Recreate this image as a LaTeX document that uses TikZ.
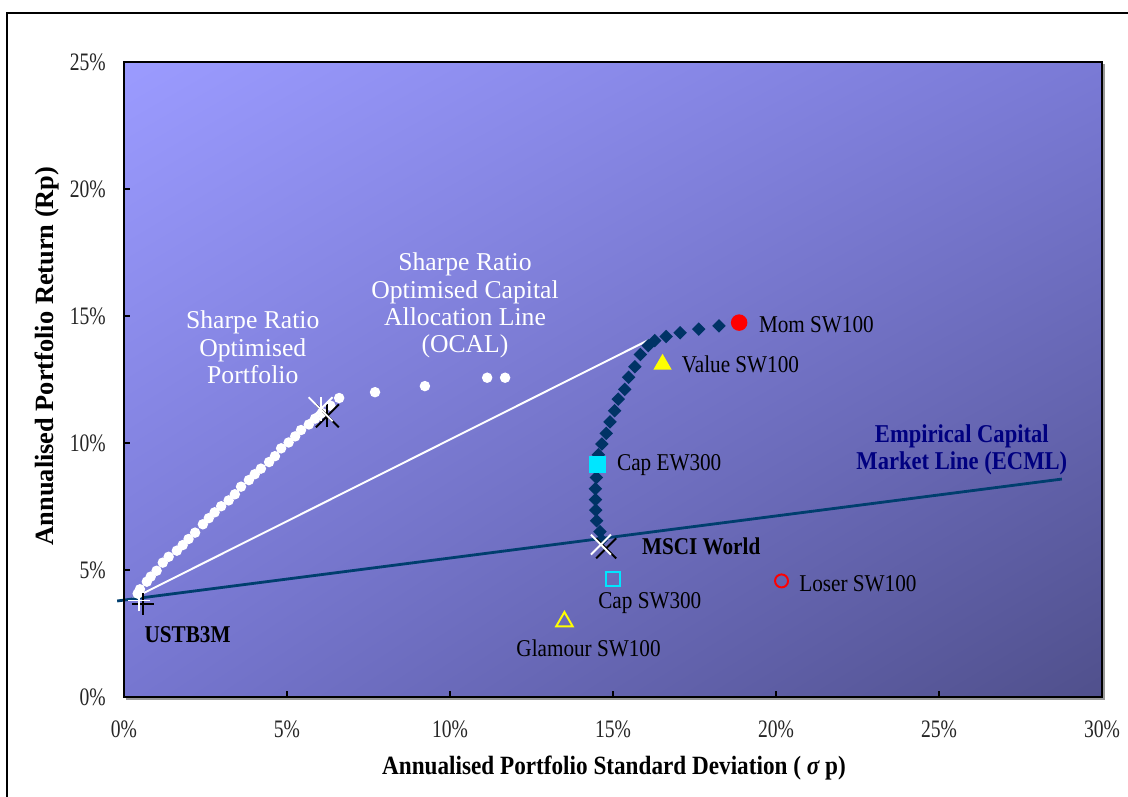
\documentclass[tikz,border=0pt]{standalone}
\usepackage{fontspec}
\setmainfont{Liberation Serif}
\newfontfamily\narrowserif[FakeStretch=0.88]{Liberation Serif}
\newfontfamily\tickserif[FakeStretch=0.78]{Liberation Serif}
\usetikzlibrary{shapes.geometric,shapes.misc,shadings,positioning}
\definecolor{bgUL}{RGB}{155,155,255}
\definecolor{bgUR}{RGB}{122,122,214}
\definecolor{bgLL}{RGB}{118,118,208}
\definecolor{bgLR}{RGB}{80,80,140}
\definecolor{frontier}{RGB}{0,51,102}
\definecolor{ecmlcol}{RGB}{0,62,110}
\definecolor{ecmltext}{RGB}{0,0,128}
\definecolor{markcyan}{RGB}{0,230,255}
\definecolor{markyellow}{RGB}{255,255,0}
\definecolor{markred}{RGB}{255,0,0}
\tikzset{
  %Define marker styles
  dotmark/.style={circle, fill=white, inner sep=0pt, outer sep=0pt, minimum size=0.21cm},
  diamark/.style={diamond, fill=frontier, inner sep=0pt, outer sep=0pt, minimum size=0.27cm},
  trimark/.style={regular polygon, regular polygon sides=3, inner sep=0pt, outer sep=0pt, minimum size=0.42cm},
  sqmark/.style={rectangle, inner sep=0pt, outer sep=0pt, minimum size=#1},
  circmark/.style={circle, inner sep=0pt, outer sep=0pt, minimum size=#1},
  xmark/.style={cross out, draw=#1, line width=1.1pt, inner sep=0pt, outer sep=0pt},
  %Define text styles
  lbl/.style={inner sep=0pt, font=\narrowserif\fontsize{13.7}{16}\selectfont},
  boldlbl/.style={inner sep=0pt, font=\narrowserif\bfseries\fontsize{13.7}{16}\selectfont},
  whitelbl/.style={inner sep=0pt, align=center, text=white,
    font=\fontsize{14.6}{15.6}\selectfont},
  ticklbl/.style={inner sep=0pt, text=black!85, font=\tickserif\fontsize{14.3}{16}\selectfont},
  % Define line styles
  ecml/.style={draw=ecmlcol, line width=1.6pt},
  ocal/.style={draw=white, line width=1.1pt}
}
\begin{document}
\begin{tikzpicture}[x=0.652cm,y=0.508cm]
  \useasboundingbox (-3.804,-3.937) rectangle (30.798,27.441);
  % frame round the chart
  \draw[line width=1.1pt] (-3.589,-3.937) -- (-3.589,26.929) -- (30.798,26.929);
  % plot area
  \shade[upper left=bgUL, upper right=bgUR, lower left=bgLL, lower right=bgLR]
    (0,0) rectangle (30,25);
  \foreach \t in {5,10,...,25} \draw[line width=0.6pt] (\t,0) -- (\t,0.22);
  \foreach \t in {5,10,15,20} \draw[line width=0.6pt] (0,\t) -- (0.18,\t);
  \foreach \t in {0,5,...,30} \node[ticklbl] (xt\t) at (\t,-1.26) {\t\%};
  \foreach \t in {0,5,...,25} \node[ticklbl, anchor=east] (yt\t) at (-0.55,\t) {\t\%};
  % axis titles
  \node[inner sep=0pt, rotate=90, font=\bfseries\fontsize{15}{17}\selectfont]
    (ytitle) at (-2.36,13.43) {Annualised Portfolio Return (Rp)};
  \node[inner sep=0pt, font=\narrowserif\bfseries\fontsize{15}{17}\selectfont]
    (xtitle) at (15.03,-2.80) {Annualised Portfolio Standard Deviation ( {\itshape σ} p)};
  % lines
  \coordinate (ecmlA) at (-0.21,3.78);
  \coordinate (ecmlB) at (28.77,8.58);
  \coordinate (ocalA) at (0.18,3.82);
  \coordinate (ocalB) at (16.10,14.06);
  \draw[ocal] (ocalA) -- (ocalB);
  \draw[ecml] (ecmlA) -- (ecmlB);
  % efficient frontier
  \foreach \x/\y [count=\i] in {18.25/14.61,17.63/14.48,17.06/14.34,16.63/14.19,
      16.28/14.03,16.08/13.83,15.84/13.48,15.67/13.00,15.48/12.59,15.36/12.11,
      15.16/11.73,15.05/11.27,14.91/10.83,14.79/10.38,14.66/9.96,14.55/9.54,
      14.51/9.15,14.49/8.64,14.46/8.20,14.46/7.77,14.47/7.36,14.50/6.94,
      14.60/6.51,14.65/6.18}
    \node[diamark] (ef\i) at (\x,\y) {};
  % optimised portfolios
  \foreach \x/\y [count=\i] in {0.42/4.07,0.49/4.24,0.70/4.54,0.82/4.74,1.00/4.97,
      1.19/5.29,1.37/5.52,1.62/5.76,1.80/5.98,1.98/6.22,2.18/6.47,2.42/6.80,
      2.60/7.04,2.78/7.27,2.98/7.51,3.21/7.74,3.40/7.98,3.59/8.28,3.83/8.54,
      4.01/8.77,4.20/8.99,4.45/9.25,4.63/9.48,4.82/9.79,5.05/10.02,5.25/10.26,
      5.43/10.51,5.67/10.73,5.86/10.96,6.07/11.18,6.33/11.47,6.60/11.77,
      7.70/12.00,9.23/12.24,11.14/12.57,11.69/12.57}
    \node[dotmark] (op\i) at (\x,\y) {};
  % portfolio markers
  \node[circmark=0.33cm, fill=markred] (mom) at (18.87,14.74) {};
  \node[trimark, fill=markyellow] (value) at (16.52,13.10) {};
  \node[sqmark=0.33cm, fill=markcyan] (capew) at (14.52,9.15) {};
  \node[sqmark=0.28cm, draw=markcyan, line width=1.1pt] (capsw) at (15.01,4.65) {};
  \node[circmark=0.26cm, draw=markred, line width=1.1pt] (loser) at (20.17,4.57) {};
  \node[trimark, minimum size=0.38cm, draw=markyellow, line width=1.1pt] (glamour) at (13.51,2.97) {};
  % crosses
  \node[xmark=black, minimum size=0.46cm] (tpb) at (6.24,11.07) {};
  \draw[black, line width=1.1pt] (tpb.north) -- (tpb.south);
  \node[xmark=white, minimum size=0.48cm] (tpw) at (6.03,11.33) {};
  \draw[white, line width=1.1pt] (tpw.north) -- (tpw.south);
  \node[xmark=black, minimum size=0.4cm] (mscib) at (14.79,5.85) {};
  \node[xmark=white, minimum size=0.4cm] (msciw) at (14.63,6.00) {};
  \node[xmark=black, rotate=45, minimum size=0.31cm] (rfb) at (0.59,3.66) {};
  \node[xmark=white, rotate=45, minimum size=0.31cm] (rfw) at (0.47,3.80) {};
  % labels
  \node[lbl, right=0.39cm of mom.center, yshift=-0.05cm] (momlbl) {Mom SW100};
  \node[lbl, right=0.38cm of value.center] (valuelbl) {Value SW100};
  \node[lbl, right=0.39cm of capew.center] (capewlbl) {Cap EW300};
  \node[boldlbl, right=0.71cm of mscib.center, yshift=0.04cm] (mscilbl) {MSCI World};
  \node[lbl, right=0.35cm of loser.center, yshift=-0.06cm] (loserlbl) {Loser SW100};
  \node[lbl] (capswlbl) at (16.13,3.69) {Cap SW300};
  \node[lbl] (glamourlbl) at (14.25,1.92) {Glamour SW100};
  \node[boldlbl, anchor=west] (rflbl) at (0.62,2.44) {USTB3M};
  \node[whitelbl] (tplbl) at (3.95,13.77) {Sharpe Ratio\\Optimised\\Portfolio};
  \node[whitelbl] (ocallbl) at (10.46,15.41)
    {Sharpe Ratio\\Optimised Capital\\Allocation Line\\(OCAL)};
  \node[whitelbl, text=ecmltext, font=\narrowserif\bfseries\fontsize{14.6}{15.6}\selectfont]
    (ecmllbl) at (25.70,9.74) {Empirical Capital\\Market Line (ECML)};
  % plot border
  \draw[black!40, line width=0.8pt] (0.06,-0.08) -- (30.06,-0.08) -- (30.06,24.92);
  \draw[line width=1.1pt] (0,0) rectangle (30,25);
\end{tikzpicture}
\end{document}
